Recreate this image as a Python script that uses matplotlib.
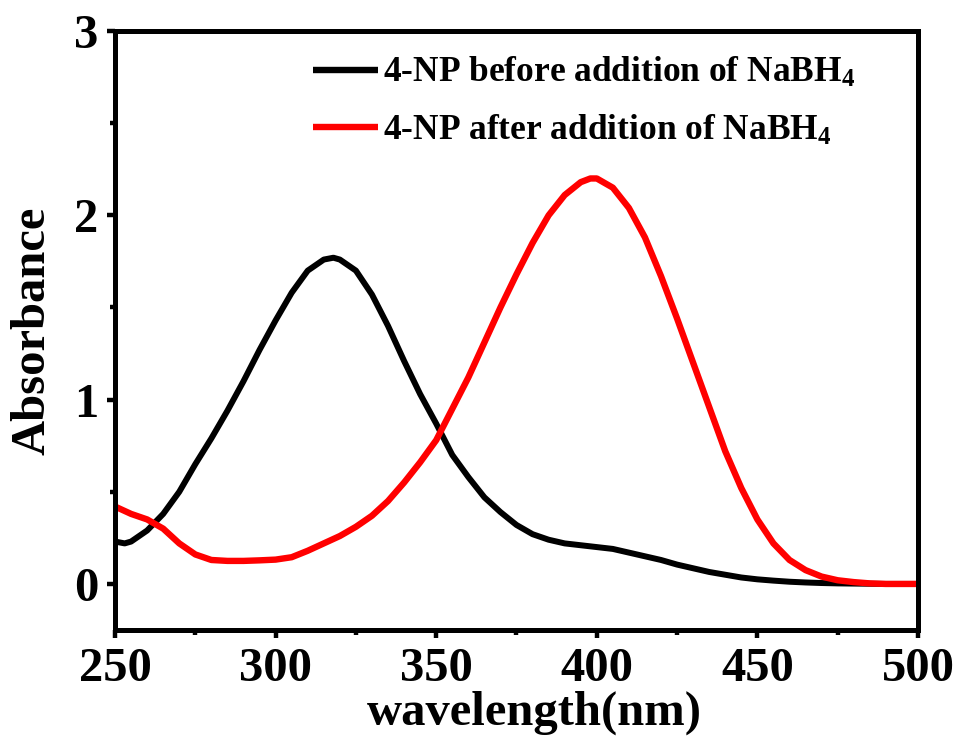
import matplotlib
matplotlib.use("Agg")
import matplotlib.pyplot as plt
from matplotlib.ticker import MultipleLocator

plt.rcParams['font.family'] = ['Liberation Serif', 'DejaVu Serif']
plt.rcParams['font.weight'] = 'bold'
plt.rcParams['mathtext.fontset'] = 'custom'
plt.rcParams['mathtext.rm'] = 'Liberation Serif:bold'
plt.rcParams['mathtext.bf'] = 'Liberation Serif:bold'
plt.rcParams['mathtext.default'] = 'bf'

# Data
wl_before = [250, 253, 255, 260, 265, 270, 275, 280, 285, 290, 295, 300, 305, 310, 315, 318,
             320, 325, 330, 335, 340, 345, 350, 355, 360, 365, 370, 375, 380, 385, 390, 395,
             400, 405, 410, 415, 420, 425, 430, 435, 440, 445, 450, 455, 460, 465, 470, 475,
             480, 490, 500]
abs_before = [0.23, 0.22, 0.23, 0.29, 0.38, 0.50, 0.65, 0.79, 0.94, 1.10, 1.27, 1.43, 1.58, 1.70,
              1.76, 1.77, 1.76, 1.70, 1.57, 1.40, 1.21, 1.03, 0.87, 0.70, 0.58, 0.47, 0.39, 0.32,
              0.27, 0.24, 0.22, 0.21, 0.20, 0.19, 0.17, 0.15, 0.13, 0.105, 0.085, 0.065, 0.05,
              0.035, 0.025, 0.018, 0.012, 0.008, 0.005, 0.003, 0.002, 0.0, 0.0]

wl_after = [250, 255, 260, 265, 270, 275, 280, 285, 290, 295, 300, 305, 310, 315, 320, 325,
            330, 335, 340, 345, 350, 355, 360, 365, 370, 375, 380, 385, 390, 395, 398, 400,
            405, 410, 415, 420, 425, 430, 435, 440, 445, 450, 455, 460, 465, 470, 475, 480,
            485, 490, 500]
abs_after = [0.42, 0.38, 0.35, 0.30, 0.22, 0.16, 0.13, 0.125, 0.125, 0.128, 0.132, 0.145, 0.18,
             0.22, 0.26, 0.31, 0.37, 0.45, 0.55, 0.66, 0.78, 0.95, 1.12, 1.31, 1.50, 1.68, 1.85,
             2.00, 2.11, 2.18, 2.20, 2.20, 2.15, 2.04, 1.88, 1.67, 1.44, 1.20, 0.96, 0.72, 0.52,
             0.35, 0.22, 0.13, 0.075, 0.04, 0.02, 0.01, 0.003, 0.0, 0.0]

label_before = '4-NP before addition of NaBH$_4$'
label_after = '4-NP after addition of NaBH$_4$'
xticks = [250, 300, 350, 400, 450, 500]
yticks = [0, 1, 2, 3]

fig = plt.figure(figsize=(9.57, 7.44), dpi=100)
ax = fig.add_axes([0.1202, 0.1532, 0.8390, 0.8051])

ax.plot(wl_before, abs_before, color='black', lw=4.3, label=label_before,
        solid_capstyle='butt', solid_joinstyle='round')
ax.plot(wl_after, abs_after, color='#ff0000', lw=4.6, label=label_after,
        solid_capstyle='butt', solid_joinstyle='round')

ax.set_xlim(250, 500)
ax.set_ylim(-0.25, 3)
ax.set_xticks(xticks)
ax.set_yticks(yticks)
ax.xaxis.set_minor_locator(MultipleLocator(25))
ax.yaxis.set_minor_locator(MultipleLocator(0.5))

for s in ax.spines.values():
    s.set_linewidth(3.6)

ax.tick_params(which='major', direction='out', length=6, width=3.2, labelsize=35, pad=6)
ax.tick_params(which='minor', direction='out', length=3.5, width=3.2)
ax.tick_params(top=False, right=False, which='both')

ax.set_xlabel('wavelength(nm)', fontsize=35, fontweight='bold')
ax.xaxis.set_label_coords(0.522, -0.101)
ax.set_ylabel('Absorbance', fontsize=35, fontweight='bold', labelpad=14)

leg = ax.legend(loc='upper left', bbox_to_anchor=(0.2466, 0.958), frameon=False,
                fontsize=25.5, handlelength=1.84, handletextpad=0.14, labelspacing=0.65,
                borderaxespad=0, borderpad=0)
for line in leg.get_lines():
    line.set_linewidth(4.6)

fig.savefig('out.png', dpi=100)
